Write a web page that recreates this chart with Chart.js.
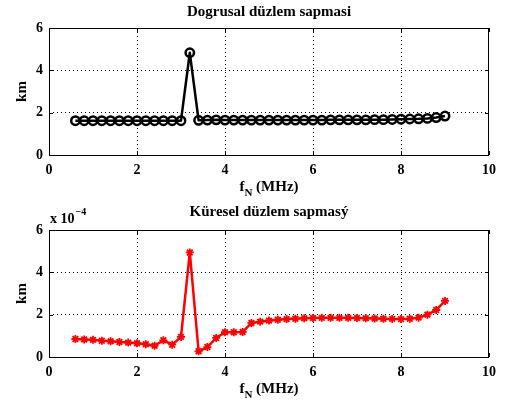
<!DOCTYPE html>
<html>
<head>
<meta charset="utf-8">
<script src="https://cdn.jsdelivr.net/npm/chart.js@4/dist/chart.umd.min.js"></script>
<style>
  body { margin: 0; background: #fff; }
  #wrap { position: relative; width: 507px; height: 409px; }
  canvas { position: absolute; left: 0; }
</style>
</head>
<body>
<div id="wrap">
  <canvas id="topChart" width="507" height="200" style="top:0"></canvas>
  <canvas id="bottomChart" width="507" height="209" style="top:200px"></canvas>
</div>
<script>
// plasma frequency samples, MHz
const freq = [0.6, 0.8, 1.0, 1.2, 1.4, 1.6, 1.8, 2.0, 2.2, 2.4, 2.6, 2.8, 3.0,
  3.2, 3.4, 3.6, 3.8, 4.0, 4.2, 4.4, 4.6, 4.8, 5.0, 5.2, 5.4, 5.6, 5.8, 6.0,
  6.2, 6.4, 6.6, 6.8, 7.0, 7.2, 7.4, 7.6, 7.8, 8.0, 8.2, 8.4, 8.6, 8.8, 9.0];

// km
const linearDev = [1.62, 1.62, 1.62, 1.62, 1.62, 1.62, 1.62, 1.62, 1.62, 1.62, 1.62, 1.62, 1.62,
  4.83, 1.64, 1.65, 1.66, 1.65, 1.65, 1.65, 1.65, 1.65, 1.65, 1.65, 1.65, 1.65, 1.65, 1.65,
  1.65, 1.66, 1.66, 1.66, 1.66, 1.66, 1.67, 1.67, 1.68, 1.69, 1.70, 1.71, 1.73, 1.77, 1.84];

// km, in units of 1e-4
const sphericalDev = [0.85, 0.83, 0.81, 0.77, 0.74, 0.71, 0.68, 0.65, 0.60, 0.53, 0.79, 0.58, 0.95,
  4.94, 0.27, 0.47, 0.90, 1.17, 1.17, 1.18, 1.61, 1.67, 1.72, 1.76, 1.79, 1.81, 1.83, 1.84,
  1.85, 1.85, 1.85, 1.85, 1.84, 1.83, 1.82, 1.81, 1.80, 1.79, 1.81, 1.86, 2.00, 2.22, 2.65];

const xTicks = [0, 2, 4, 6, 8, 10];
const yTicks = [0, 2, 4, 6];

const FONT = "'Liberation Serif', 'DejaVu Serif', serif";

// matlab-ish frame: box, inward ticks, title, axis labels
const matlabFrame = {
  id: 'matlabFrame',
  afterDraw(chart, args, opts) {
    const c = chart.ctx;
    const a = chart.chartArea;
    const xs = chart.scales.x;
    const ys = chart.scales.y;
    c.save();
    c.strokeStyle = '#000';
    c.lineWidth = 1;
    c.strokeRect(a.left + 0.5, a.top + 0.5, a.right - a.left - 1, a.bottom - a.top);

    c.beginPath();
    xTicks.forEach((v) => {
      const px = Math.round(xs.getPixelForValue(v)) + 0.5;
      c.moveTo(px, a.bottom); c.lineTo(px, a.bottom - 4);
      c.moveTo(px, a.top); c.lineTo(px, a.top + 4);
    });
    yTicks.forEach((v) => {
      const py = Math.round(ys.getPixelForValue(v)) + 0.5;
      c.moveTo(a.left, py); c.lineTo(a.left + 4, py);
      c.moveTo(a.right, py); c.lineTo(a.right - 4, py);
    });
    c.stroke();

    c.fillStyle = '#000';
    c.textBaseline = 'middle';
    c.textAlign = 'center';
    c.font = 'bold 15px ' + FONT;
    c.fillText(opts.title, (a.left + a.right) / 2, 12);

    // f_N (MHz)
    const mid = (a.left + a.right) / 2;
    const yl = a.bottom + 32;
    c.font = 'bold 15px ' + FONT;
    const wf = c.measureText('f').width;
    const rest = ' (MHz)';
    const wr = c.measureText(rest).width;
    c.font = 'bold 11px ' + FONT;
    const wn = c.measureText('N').width;
    let x0 = mid - (wf + wn + wr) / 2;
    c.textAlign = 'left';
    c.font = 'bold 15px ' + FONT;
    c.fillText('f', x0, yl);
    c.font = 'bold 11px ' + FONT;
    c.fillText('N', x0 + wf, yl + 6);
    c.font = 'bold 15px ' + FONT;
    c.fillText(rest, x0 + wf + wn, yl);

    // km
    c.save();
    c.translate(22, (a.top + a.bottom) / 2);
    c.rotate(-Math.PI / 2);
    c.textAlign = 'center';
    c.font = 'bold 15px ' + FONT;
    c.fillText('km', 0, 0);
    c.restore();

    if (opts.exponent) {
      c.textAlign = 'left';
      c.font = 'bold 14px ' + FONT;
      c.fillText('x 10', a.left + 1, a.top - 11);
      const w = c.measureText('x 10').width;
      c.font = 'bold 10px ' + FONT;
      c.fillText(opts.exponent, a.left + 2 + w, a.top - 18);
    }
    c.restore();
  }
};

function gridColor(edges) {
  return (ctx) => (edges.includes(ctx.tick.value) ? 'rgba(0,0,0,0)' : '#000');
}

function makeChart(id, values, opt) {
  return new Chart(document.getElementById(id), {
    type: 'line',
    data: {
      datasets: [{
        data: freq.map((f, i) => ({ x: f, y: values[i] })),
        borderColor: opt.color,
        borderWidth: 2.5,
        borderJoinStyle: 'round',
        pointStyle: opt.marker,
        pointRadius: opt.radius,
        pointBorderWidth: opt.markerWidth,
        pointBorderColor: opt.color,
        pointBackgroundColor: 'rgba(0,0,0,0)',
        tension: 0
      }]
    },
    options: {
      responsive: false,
      devicePixelRatio: 1,
      animation: false,
      layout: { padding: { left: 0, right: 18, top: opt.top, bottom: 0 } },
      plugins: {
        legend: { display: false },
        tooltip: { enabled: false },
        matlabFrame: { title: opt.title, exponent: opt.exponent }
      },
      scales: {
        x: {
          type: 'linear', min: 0, max: 10,
          afterBuildTicks: (s) => { s.ticks = xTicks.map((v) => ({ value: v })); },
          afterFit: (s) => { s.height = opt.xHeight; },
          ticks: { color: '#000', padding: 7, font: { family: FONT, size: 14, weight: 'bold' } },
          grid: { color: gridColor([0, 10]), lineWidth: 1, drawTicks: false, tickLength: 0 },
          border: { display: false, dash: [1, 3] }
        },
        y: {
          min: 0, max: 6,
          afterBuildTicks: (s) => { s.ticks = yTicks.map((v) => ({ value: v })); },
          afterFit: (s) => { s.width = 49; },
          ticks: { color: '#000', padding: 6, font: { family: FONT, size: 14, weight: 'bold' } },
          grid: { color: gridColor([0, 6]), lineWidth: 1, drawTicks: false, tickLength: 0 },
          border: { display: false, dash: [1, 3] }
        }
      }
    },
    plugins: [matlabFrame]
  });
}

makeChart('topChart', linearDev, {
  color: '#000', marker: 'circle', radius: 4.2, markerWidth: 2.5,
  title: 'Dogrusal düzlem sapmasi', top: 28, xHeight: 45
});
makeChart('bottomChart', sphericalDev, {
  color: '#ff0000', marker: 'star', radius: 4, markerWidth: 1.8,
  title: 'Küresel düzlem sapmasý', top: 30, xHeight: 52, exponent: '\u22124'
});
</script>
</body>
</html>
